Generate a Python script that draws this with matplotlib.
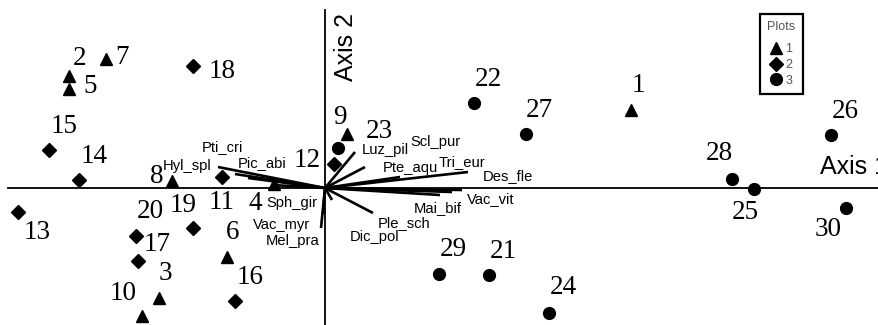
import matplotlib
matplotlib.use("Agg")
import matplotlib.pyplot as plt

# ---- site scores (axis 1, axis 2) by plot group ----
site_ids = ["1", "2", "5", "7", "8", "4", "6", "3", "10", "9",
            "18", "15", "14", "13", "20", "17", "19", "11", "16", "12",
            "23", "22", "27", "26", "28", "25", "30", "29", "21", "24"]
site_ax1 = [3.06, -2.56, -2.56, -2.19, -1.53, -0.51, -0.98, -1.66, -1.83, 0.22,
            -1.32, -2.76, -2.46, -3.07, -1.89, -1.87, -1.32, -1.03, -0.90, 0.09,
            0.13, 1.49, 2.01, 5.06, 4.07, 4.29, 5.21, 1.14, 1.64, 2.24]
site_ax2 = [0.78, 1.12, 0.99, 1.29, 0.07, 0.04, -0.69, -1.10, -1.28, 0.54,
            1.22, 0.38, 0.08, -0.24, -0.48, -0.73, -0.40, 0.11, -1.13, 0.24,
            0.40, 0.85, 0.54, 0.53, 0.09, -0.01, -0.20, -0.86, -0.87, -1.25]
site_group = [1] * 10 + [2] * 10 + [3] * 10

# ---- species vector scores ----
species = ["Hyl_spl", "Pti_cri", "Pic_abi", "Sph_gir", "Vac_myr", "Mel_pra",
           "Luz_pil", "Scl_pur", "Pte_aqu", "Tri_eur", "Des_fle", "Vac_vit",
           "Mai_bif", "Ple_sch", "Dic_pol"]
sp_ax1 = [-1.07, -0.90, -0.77, -0.53, -0.04, -0.02,
          0.30, 0.40, 0.75, 1.43, 1.37, 1.27, 1.15, 0.48, 0.07]
sp_ax2 = [0.21, 0.14, 0.10, 0.03, -0.40, -0.26,
          0.36, 0.21, 0.11, 0.16, -0.02, -0.04, -0.07, -0.25, -0.12]

legend_title = "Plots"
group_labels = ["1", "2", "3"]

# ---- styling / label placement (pixel offsets, x right, y down) ----
site_label_off = [(7, -24), (11, -17), (21, -2), (16, -1), (-15, -4), (-19, 20),
                  (6, -24), (6, -24), (-19, -23), (-7, -16),
                  (29, 5), (15, -23), (15, -23), (19, 21), (14, -24), (19, -16),
                  (-10, -22), (0, 26), (15, -23), (-27, -3),
                  (41, -16), (14, -23), (13, -23), (14, -23), (-13, -25),
                  (-9, 24), (-18, 22), (14, -24), (14, -24), (14, -25)]
sp_label_off = [(-31, -1), (-13, -27), (14, -15), (20, 18), (-39, -3), (-30, 27),
                (30, -2), (70, -25), (10, -9), (-6, -10), (46, -14), (39, 7),
                (-2, 13), (31, 10), (43, 37)]
markers = {1: ("^", 9), 2: ("D", 7.5), 3: ("o", 8.5)}

fig = plt.figure(figsize=(8.79, 3.25), dpi=100)
ax = fig.add_axes([0, 0, 1, 1])
ax.set_xlim(-3.25, 5.54)
ax.set_ylim(-1.37, 1.88)
ax.axis("off")

# axes lines through origin
ax.plot([-3.17, 5.54], [0, 0], color="black", lw=1.3, zorder=1)
ax.plot([0, 0], [-1.37, 1.78], color="black", lw=1.3, zorder=1)

# species vectors
for x, y in zip(sp_ax1, sp_ax2):
    ax.plot([0, x], [0, y], color="black", lw=1.9, solid_capstyle="butt", zorder=2)
for name, x, y, off in zip(species, sp_ax1, sp_ax2, sp_label_off):
    ax.annotate(name, (x, y), xytext=(off[0], -off[1]), textcoords="offset pixels",
                ha="center", va="center", fontsize=10.6,
                family="Liberation Sans", zorder=4)

# sites
for g in (1, 2, 3):
    xs = [x for x, gg in zip(site_ax1, site_group) if gg == g]
    ys = [y for y, gg in zip(site_ax2, site_group) if gg == g]
    m, s = markers[g]
    ax.plot(xs, ys, linestyle="none", marker=m, markersize=s,
            color="black", zorder=3)
for sid, x, y, off in zip(site_ids, site_ax1, site_ax2, site_label_off):
    ax.annotate(sid, (x, y), xytext=(off[0], -off[1]), textcoords="offset pixels",
                ha="center", va="center", fontsize=19.5,
                family="Liberation Serif", zorder=4)

# axis titles
ax.text(346 / 879, 1 - 47 / 325, "Axis 2", transform=ax.transAxes, rotation=90,
        ha="center", va="center", fontsize=18, family="Liberation Sans")
ax.text(820 / 879, 1 - 167 / 325, "Axis 1", transform=ax.transAxes,
        ha="left", va="center", fontsize=18, family="Liberation Sans")

# legend
leg_handles = []
for g in (1, 2, 3):
    m, s = markers[g]
    h, = ax.plot([], [], linestyle="none", marker=m, markersize=s,
                 color="black")
    leg_handles.append(h)
leg = ax.legend(leg_handles, group_labels, title=legend_title,
                loc="upper left", bbox_to_anchor=(760 / 879, 1 - 14 / 325),
                frameon=True, fancybox=False,
                edgecolor="black", framealpha=1, handlelength=0.8,
                handletextpad=0.35, labelspacing=0.3, borderpad=0.6,
                borderaxespad=0, prop={"family": "Liberation Sans", "size": 9})
leg._legend_box.sep = 7
leg.get_frame().set_linewidth(1.6)
leg.get_title().set_color("#555555")
leg.get_title().set_family("Liberation Sans")
leg.get_title().set_fontsize(9)
for t in leg.get_texts():
    t.set_color("#555555")

fig.savefig("out.png", dpi=100)
